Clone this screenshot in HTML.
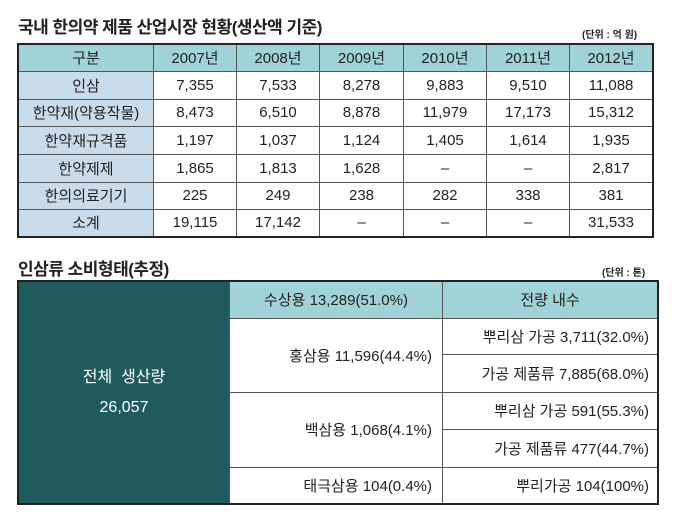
<!DOCTYPE html><html><head><meta charset="utf-8"><style>
body{margin:0;width:673px;height:516px;background:#fff;font-family:"Liberation Sans","Noto Sans CJK KR",sans-serif;position:relative;overflow:hidden;color:#222}
.a{position:absolute}
.t{font-size:17px;font-weight:bold;letter-spacing:-0.5px}
.u{font-size:10px;font-weight:bold}
table{border-collapse:collapse;position:absolute}
td{border:1px solid #555;text-align:center;font-size:15px;padding:0}
</style></head><body>
<div class="a t" style="left:18px;top:13px">국내 한의약 제품 산업시장 현황(생산액 기준)</div>
<div class="a u" style="left:582px;top:26px">(단위 : 억 원)</div>
<table style="left:17px;top:43px;border:2px solid #222">
<tr style="height:27px;background:#9fd3d7"><td style="width:134px">구분</td><td style="width:82px">2007년</td><td style="width:82px">2008년</td><td style="width:83px">2009년</td><td style="width:82px">2010년</td><td style="width:82px">2011년</td><td style="width:82px">2012년</td></tr>
<tr style="height:28px"><td style="background:#c9dcec">인삼</td><td>7,355</td><td>7,533</td><td>8,278</td><td>9,883</td><td>9,510</td><td>11,088</td></tr>
<tr style="height:27px"><td style="background:#c9dcec">한약재(약용작물)</td><td>8,473</td><td>6,510</td><td>8,878</td><td>11,979</td><td>17,173</td><td>15,312</td></tr>
<tr style="height:28px"><td style="background:#c9dcec">한약재규격품</td><td>1,197</td><td>1,037</td><td>1,124</td><td>1,405</td><td>1,614</td><td>1,935</td></tr>
<tr style="height:28px"><td style="background:#c9dcec">한약제제</td><td>1,865</td><td>1,813</td><td>1,628</td><td>–</td><td>–</td><td>2,817</td></tr>
<tr style="height:27px"><td style="background:#c9dcec">한의의료기기</td><td>225</td><td>249</td><td>238</td><td>282</td><td>338</td><td>381</td></tr>
<tr style="height:28px"><td style="background:#c9dcec">소계</td><td>19,115</td><td>17,142</td><td>–</td><td>–</td><td>–</td><td>31,533</td></tr>
</table>
<div class="a t" style="left:18px;top:255px">인삼류 소비형태(추정)</div>
<div class="a u" style="left:602px;top:264px">(단위 : 톤)</div>
<table style="left:17px;top:280px;border:2px solid #222">
<tr style="height:37px"><td rowspan="6" style="width:210px;background:#1f5a5e;color:#fff;font-size:16px;line-height:30px">전체&nbsp; 생산량<br>26,057</td><td style="width:212px;background:#9fd3d7">수상용 13,289(51.0%)</td><td style="width:214px;background:#9fd3d7">전량 내수</td></tr>
<tr style="height:36px"><td rowspan="2" style="text-align:right;padding-right:10px">홍삼용 11,596(44.4%)</td><td style="text-align:right;padding-right:8px">뿌리삼 가공 3,711(32.0%)</td></tr>
<tr style="height:38px"><td style="text-align:right;padding-right:8px">가공 제품류 7,885(68.0%)</td></tr>
<tr style="height:37px"><td rowspan="2" style="text-align:right;padding-right:10px">백삼용 1,068(4.1%)</td><td style="text-align:right;padding-right:8px">뿌리삼 가공 591(55.3%)</td></tr>
<tr style="height:38px"><td style="text-align:right;padding-right:8px">가공 제품류 477(44.7%)</td></tr>
<tr style="height:37px"><td style="text-align:right;padding-right:10px">태극삼용 104(0.4%)</td><td style="text-align:right;padding-right:8px">뿌리가공 104(100%)</td></tr>
</table>
</body></html>
